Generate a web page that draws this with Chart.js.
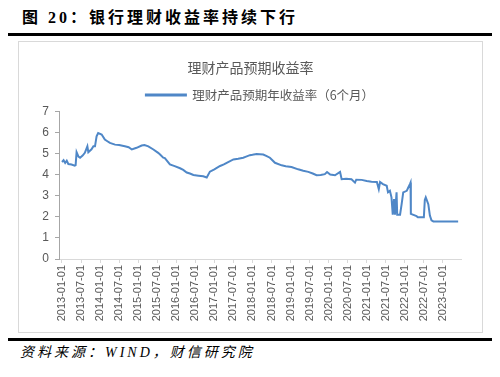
<!DOCTYPE html>
<html>
<head>
<meta charset="utf-8">
<script src="https://cdn.jsdelivr.net/npm/chart.js@4/dist/chart.umd.min.js"></script>
<style>
    html, body { margin: 0; padding: 0; background: #fff; }
    body { width: 500px; height: 377px; position: relative; overflow: hidden; }
    #fig-title {
        position: absolute; left: 22px; top: 7px;
        font: bold 16px/22px "Liberation Serif", "Noto Sans CJK SC", serif;
        letter-spacing: 3px; color: #000;
    }
    .rule { position: absolute; left: 8px; width: 484px; height: 3px; background: #000; }
    #box {
        position: absolute; left: 18px; top: 41px; width: 463px; height: 290px;
        border: 1px solid #d9d9d9;
    }
    #source {
        position: absolute; left: 20px; top: 343px;
        font: italic 14px/20px "Liberation Serif", "Noto Sans CJK SC", serif;
        letter-spacing: 3px; color: #000;
    }
</style>
</head>
<body>
<div id="fig-title">图 20：银行理财收益率持续下行</div>
<div class="rule" style="top:33px"></div>
<div id="box"><canvas id="chart-wmp" width="463" height="290"></canvas></div>
<div class="rule" style="top:338px"></div>
<div id="source">资料来源：WIND，财信研究院</div>
<script>
// months since 2013-01, yield (%)
const months = [
    0, 0.5, 1, 1.5, 2, 3, 4, 4.3, 4.6, 5.2, 5.7, 6.5, 7.2, 8, 8.3, 9.3, 9.9, 10.4,
    10.9, 11.4, 12.5, 13.5, 14.3, 15.1, 16.7, 18, 19.8, 21, 22, 23.5, 25.1, 26, 27.2,
    28.8, 30.3, 30.9, 31.9, 32.4, 34, 35.5, 37.2, 38.2, 39.3, 40.3, 41.4, 43, 44.5,
    45.6, 46.6, 48, 49.8, 51, 51.9, 54, 55.5, 57.1, 58, 59.2, 60, 61.3, 63.4, 64.5,
    65.5, 67.1, 69.2, 70.5, 72.3, 74.4, 76, 77.6, 79, 80.2, 81.5, 82.8, 83.5, 84.5,
    86, 87.6, 88.1, 89.5, 91.2, 92.3, 92.7, 94.4, 96, 97.5, 99.2, 99.8, 100.2, 101.1,
    102.3, 102.7, 103.3, 103.8, 104.2, 104.6, 104.9, 105.4, 105.6, 106.5, 107, 107.5,
    108.6, 109.1, 109.6, 109.8, 109.9, 111.7, 112.1, 114, 114.3, 114.6, 115.4, 115.9,
    116.4, 117, 124.8,
];
const yields = [
    4.60, 4.68, 4.55, 4.66, 4.50, 4.48, 4.42, 4.45, 5.06, 4.85, 4.80, 4.90, 5.03, 5.34, 5.06, 5.20, 5.34, 5.34,
    5.81, 5.97, 5.90, 5.66, 5.58, 5.50, 5.42, 5.40, 5.34, 5.30, 5.19, 5.27, 5.38, 5.40, 5.34,
    5.19, 5.03, 4.95, 4.80, 4.78, 4.48, 4.40, 4.30, 4.22, 4.10, 4.05, 3.98, 3.95, 3.92,
    3.86, 4.14, 4.25, 4.41, 4.48, 4.56, 4.72, 4.75, 4.80, 4.85, 4.92, 4.94, 4.98, 4.95, 4.88,
    4.80, 4.56, 4.44, 4.40, 4.36, 4.25, 4.18, 4.13, 4.05, 3.97, 3.98, 4.02, 4.12, 4.00,
    3.97, 4.13, 3.78, 3.80, 3.78, 3.62, 3.76, 3.75, 3.70, 3.66, 3.65, 3.31, 3.65, 3.55,
    3.47, 3.16, 3.23, 2.92, 2.10, 2.84, 2.10, 3.16, 2.10, 2.10, 2.60, 3.16,
    3.23, 3.39, 3.55, 3.62, 2.14, 2.03, 1.98, 1.98, 2.80, 2.92, 2.60, 2.06,
    1.83, 1.78, 1.78,
];
const seriesName = '理财产品预期年收益率（6个月）';
const chartTitle = '理财产品预期收益率';
const tickMonths = [0, 6, 12, 18, 24, 30, 36, 42, 48, 54, 60, 66, 72, 78, 84, 90, 96, 102, 108, 114, 120];

const LINE = '#4f87c7';
const TEXT = '#595959';

function monthLabel(m) {
    const y = 2013 + Math.floor(m / 12);
    const mm = (m % 12) + 1;
    return `${y}-${String(mm).padStart(2, '0')}-01`;
}

const ctx = document.getElementById('chart-wmp').getContext('2d');
new Chart(ctx, {
    type: 'line',
    data: {
        datasets: [{
            label: seriesName,
            data: months.map((m, i) => ({ x: m, y: yields[i] })),
            borderColor: LINE,
            backgroundColor: LINE,
            borderWidth: 2,
            pointRadius: 0,
            tension: 0,
        }],
    },
    options: {
        responsive: false,
        animation: false,
        layout: { padding: 0 },
        plugins: {
            title: {
                display: true,
                text: chartTitle,
                color: TEXT,
                font: { family: '"Noto Sans CJK SC"', size: 14, weight: 'normal' },
                padding: { top: 17, bottom: 3 },
            },
            legend: {
                display: true,
                fullSize: false,
                labels: {
                    color: TEXT,
                    boxWidth: 40,
                    boxHeight: 1,
                    font: { family: '"Noto Sans CJK SC"', size: 12.5 },
                },
            },
            tooltip: { enabled: false },
        },
        scales: {
            x: {
                type: 'linear',
                min: -0.94,
                max: 125.7,
                afterBuildTicks: s => { s.ticks = tickMonths.map(v => ({ value: v })); },
                afterFit: s => { s.height = 73; },
                grid: { drawOnChartArea: false, drawTicks: true, tickLength: 4, color: '#d9d9d9' },
                border: { display: true, color: '#d9d9d9' },
                ticks: {
                    autoSkip: false,
                    minRotation: 90,
                    maxRotation: 90,
                    padding: 2,
                    color: TEXT,
                    font: { family: '"Liberation Sans"', size: 11 },
                    callback: v => monthLabel(v),
                },
            },
            y: {
                min: 0,
                max: 7,
                afterFit: s => { s.width = 40; },
                grid: { drawOnChartArea: false, drawTicks: true, tickLength: 4, color: '#a6a6a6' },
                border: { display: true, color: '#a6a6a6' },
                ticks: {
                    stepSize: 1,
                    padding: 6,
                    color: TEXT,
                    font: { family: '"Liberation Sans"', size: 12 },
                },
            },
            // empty right-hand axis, only reserves the white margin right of the plot
            yRight: {
                position: 'right',
                display: true,
                afterFit: s => { s.width = 21; },
                grid: { display: false },
                border: { display: false },
                ticks: { display: false },
            },
        },
    },
});
</script>
</body>
</html>
